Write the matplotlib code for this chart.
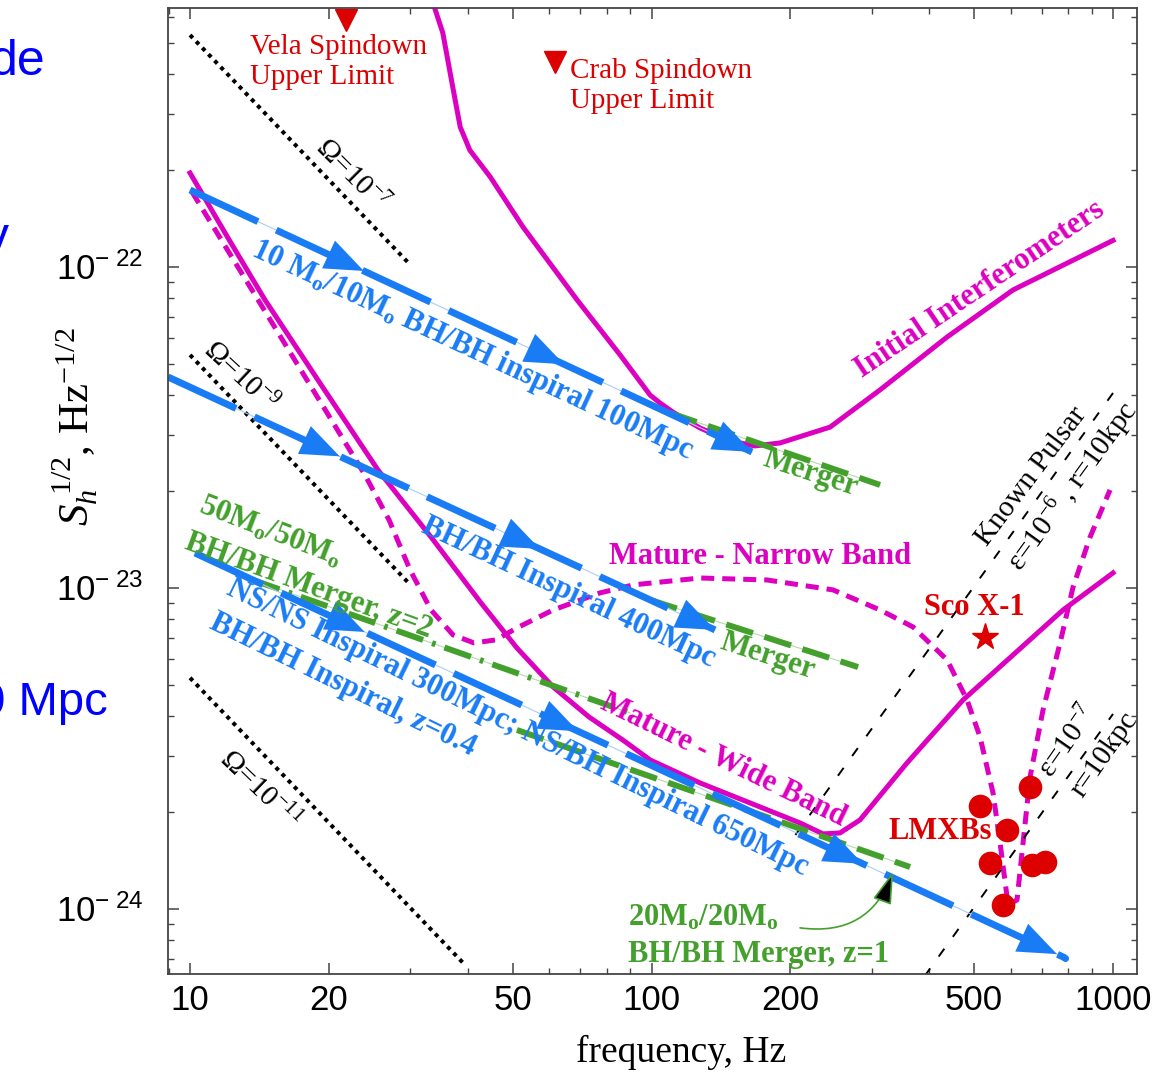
import numpy as np
import matplotlib.pyplot as plt

plt.rcParams['font.family'] = ['Liberation Serif', 'DejaVu Serif']
plt.rcParams['mathtext.fontset'] = 'custom'
plt.rcParams['mathtext.rm'] = 'Liberation Serif'
plt.rcParams['mathtext.it'] = 'Liberation Serif:italic'
plt.rcParams['mathtext.bf'] = 'Liberation Serif:bold'
plt.rcParams['mathtext.sf'] = 'Liberation Sans'

U = 1e-23  # strain unit, Hz^-1/2

# detector noise curves (Hz, units of 1e-23)
init_f = [33.45, 35.3, 36.96, 38.5, 40.4, 44.7, 52.7, 69.0, 85.5, 99.3, 104.3, 111.3, 127.4,
          148, 167.6, 189.9, 243.7, 312.7, 436.9, 607.1, 1000]
init_h = [67.9, 53.6, 37.4, 27.3, 23.1, 19.1, 13.3, 7.89, 5.32, 3.99, 3.77, 3.53, 3.15,
          2.87, 2.77, 2.83, 3.17, 4.14, 6.05, 8.48, 12.1]

wide_f = [10, 12.09, 14.54, 19.12, 25.55, 33.28, 42.72, 51.1, 61.2, 73.2, 87.2, 99.3, 127.4,
          163.5, 209.8, 235.3, 256.1, 283.0, 317.4, 357.8, 401.4, 473.2, 779.3, 1000]
wide_h = [19.63, 12.31, 7.89, 4.35, 2.33, 1.441, 0.898, 0.650, 0.4915, 0.3964, 0.3338, 0.2912,
          0.2469, 0.2139, 0.1853, 0.1713, 0.1725, 0.1894, 0.2314, 0.2850, 0.3434, 0.4478,
          0.854, 1.114]

narrow_f = [10.1, 15.67, 23.94, 27.0, 29.98, 33.28, 37.15, 41.25, 46.03, 51.1, 61.2, 77.3,
            91.2, 127.4, 178, 247.4, 312.7, 368.6, 436.9, 482.7, 515, 549.5, 569.1, 592.4,
            619.4, 638.3, 661.0, 705.2, 767.8, 819.2, 891.8, 985.1]
narrow_h = [17.13, 6.10, 2.249, 1.628, 1.138, 0.854, 0.714, 0.674, 0.689, 0.751, 0.854, 0.965,
            1.022, 1.074, 1.059, 0.986, 0.854, 0.756, 0.597, 0.4478, 0.3434, 0.2298, 0.1606,
            0.1029, 0.1067, 0.1606, 0.2577, 0.4168, 0.674, 1.007, 1.441, 2.020]

# stochastic background lines
om7_f, om7_h = [10, 29.6], [52.8, 10.37]
om9_f, om9_h = [10, 29.6], [5.32, 1.045]
om11_f, om11_h = [10, 39.4], [0.525, 0.067]

# known pulsars
psr_f = [205, 1000]
eps6_h = [0.170, 4.05]
eps7_h = [0.0170, 0.405]

# inspiral tracks and arrow positions
trkA_f, trkA_h, trkA_arr = [10, 165.1], [17.38, 2.653], [23.8, 64.6, 165.1]
trkB_f, trkB_h, trkB_arr = [8.96, 137.3], [4.543, 0.740], [21.1, 57.3, 137.3]
trkC_f, trkC_h, trkC_arr = [10.25, 787], [1.285, 0.0704], [23.9, 69.3, 287, 756]

# mergers
mrgA_f, mrgA_h = [109.7, 312.7], [3.51, 2.094]
mrgB_f, mrgB_h = [99.3, 280.2], [0.918, 0.567]
mrg50_f, mrg50_h = [13.69, 89.8], [1.059, 0.408]
mrg20_f, mrg20_h = [51.1, 363.2], [0.361, 0.1351]
mrg20_pt = (333.7, 0.1304)
mrg20_txt = (209.8, 0.0873)

# sources
vela = (21.8, 58.8)
crab = (61.8, 43.5)
sco = (528, 0.704)
lmxb_f = [515, 661, 589.4, 541.4, 667.6, 712.2, 577.7]
lmxb_h = [0.2094, 0.2399, 0.1762, 0.139, 0.1371, 0.1401, 0.1029]

MAG = '#dc00c0'
BLUE = '#1a7cf5'
GREEN = '#43a02c'
RED = '#dd0000'

fig = plt.figure(figsize=(11.68, 10.74), dpi=100)
ax = fig.add_axes([168/1168, 1-974/1074, 969/1168, 966/1074])
ax.set_xscale('log')
ax.set_yscale('log')
ax.set_xlim(8.96, 1127)
ax.set_ylim(6.27e-25, 6.41e-22)

def h(v):
    return np.array(v)*U

# noise curves
ax.plot(init_f, h(init_h), color=MAG, lw=3.6)
ax.plot(wide_f, h(wide_h), color=MAG, lw=3.6)
ax.plot(narrow_f, h(narrow_h), color=MAG, lw=3.6, ls=(0, (2.6, 1.6)))

for f, hh in [(om7_f, om7_h), (om9_f, om9_h), (om11_f, om11_h)]:
    ax.plot(f, h(hh), color='black', lw=2.9, ls=(0, (1.0, 1.2)))

ax.plot(psr_f, h(eps6_h), color='black', lw=1.4, ls=(0, (5, 7.5)))
ax.plot(psr_f, h(eps7_h), color='black', lw=1.4, ls=(0, (5, 7.5)))

def merger(f, hh, ls):
    ax.plot(f, h(hh), color='#b4dbab', lw=0.8)
    ax.plot(f, h(hh), color=GREEN, lw=4.3, ls=ls)

merger(mrgA_f, mrgA_h, (0, (4.7, 2.0)))
merger(mrgB_f, mrgB_h, (0, (4.7, 2.0)))
merger(mrg50_f, mrg50_h, (0, (4.7, 1.6, 0.6, 1.6)))
merger(mrg20_f, mrg20_h, (0, (4.7, 2.0)))

def track(f, hh, arrows):
    lf, lh = np.log10(f), np.log10(h(hh))
    ax.plot(f, h(hh), color='#a9cdf8', lw=0.8)
    ax.plot(f, h(hh), color=BLUE, lw=5, ls=(0, (10.8, 2.9)))
    for fa in arrows:
        ha = 10**np.interp(np.log10(fa), lf, lh)
        ft = fa/1.12
        ht = 10**np.interp(np.log10(ft), lf, lh)
        ax.annotate('', xy=(fa, ha), xytext=(ft, ht),
                    arrowprops=dict(arrowstyle='-|>,head_length=1.4,head_width=0.55',
                                    mutation_scale=20, color=BLUE, lw=0,
                                    shrinkA=0, shrinkB=0))

track(trkA_f, trkA_h, trkA_arr)
track(trkB_f, trkB_h, trkB_arr)
track(trkC_f, trkC_h, trkC_arr)
ax.plot(trkC_f[-1], trkC_h[-1]*U, 'o', color=BLUE, ms=4)

# sources
ax.plot(vela[0], vela[1]*U, 'v', color=RED, ms=16, clip_on=False)
ax.plot(crab[0], crab[1]*U, 'v', color=RED, ms=16)
ax.plot(sco[0], sco[1]*U, '*', color=RED, ms=20)
ax.plot(lmxb_f, h(lmxb_h), 'o', color=RED, ms=17, mec='none')

ax.annotate('', xy=(mrg20_pt[0], mrg20_pt[1]*U), xytext=(mrg20_txt[0], mrg20_txt[1]*U),
            arrowprops=dict(arrowstyle='-|>,head_length=1.0,head_width=0.3', mutation_scale=20,
                            connectionstyle='arc3,rad=0.4', fc='black', ec=GREEN, lw=1.2,
                            shrinkA=0, shrinkB=0))

def label(x, y, s, color, rot=0, size=22, weight='bold', ha='center', va='center'):
    ax.text(x, y, s, transform=ax.transAxes, color=color, rotation=rot, fontsize=size,
            fontweight=weight, ha=ha, va=va, rotation_mode='anchor')

label(0.0846, 0.9446, 'Vela Spindown\nUpper Limit', RED, size=21, weight='normal', ha='left')
label(0.4148, 0.9193, 'Crab Spindown\nUpper Limit', RED, size=21, weight='normal', ha='left')
label(0.838, 0.7081, 'Initial Interferometers', MAG, rot=34)
label(0.3137, 0.646, r'10 M$_\mathbf{o}$/10M$_\mathbf{o}$ BH/BH inspiral 100Mpc', BLUE, rot=-25)
label(0.4128, 0.3944, 'BH/BH Inspiral 400Mpc', BLUE, rot=-25)
label(0.6636, 0.5186, 'Merger', GREEN, rot=-18)
label(0.6192, 0.3292, 'Merger', GREEN, rot=-18)
label(0.1063, 0.4576, r'50M$_\mathbf{o}$/50M$_\mathbf{o}$', GREEN, rot=-21)
label(0.1455, 0.4017, 'BH/BH Merger, z=2', GREEN, rot=-20)
label(0.3602, 0.2547, 'NS/NS Inspiral 300Mpc; NS/BH Inspiral 650Mpc', BLUE, rot=-26)
label(0.1806, 0.2992, 'BH/BH Inspiral, z=0.4', BLUE, rot=-26)
label(0.6109, 0.4317, 'Mature - Narrow Band', MAG)
label(0.5728, 0.2215, 'Mature - Wide Band', MAG, rot=-26)
label(0.8318, 0.3799, 'Sco X-1', RED)
label(0.7967, 0.147, 'LMXBs', RED)
label(0.4747, 0.0497, r'20M$_\mathbf{o}$/20M$_\mathbf{o}$', GREEN, ha='left', va='baseline')
label(0.4747, 0.0124, 'BH/BH Merger, z=1', GREEN, ha='left', va='baseline')
label(0.1899, 0.8271, 'Ω=10$^{-7}$', 'black', rot=-45, size=21, weight='normal')
label(0.0743, 0.618, 'Ω=10$^{-9}$', 'black', rot=-43, size=21, weight='normal')
label(0.0949, 0.1905, 'Ω=10$^{-11}$', 'black', rot=-44, size=21, weight='normal')
label(0.8906, 0.5145, 'Known Pulsar', 'black', rot=53, size=21, weight='normal')
label(0.934, 0.5041, 'ε=10$^{-6}$ , r=10kpc', 'black', rot=54, size=21, weight='normal')
label(0.9288, 0.2402, 'ε=10$^{-7}$', 'black', rot=55, size=21, weight='normal')
label(0.967, 0.2267, 'r=10kpc', 'black', rot=55, size=21, weight='normal')

# axes styling
xt = [10, 20, 50, 100, 200, 500, 1000]
ax.set_xticks(xt)
ax.set_xticklabels([str(v) for v in xt], fontfamily='Liberation Sans', fontsize=25)
yt = [1e-24, 1e-23, 1e-22]
ax.set_yticks(yt)
ax.set_yticklabels([r'$\mathsf{10^{-\ 24}}$', r'$\mathsf{10^{-\ 23}}$', r'$\mathsf{10^{-\ 22}}$'],
                   fontsize=25)
ax.tick_params(which='both', direction='in', top=True, right=True, color='#444444')
ax.tick_params(which='major', length=8, width=1.1)
ax.tick_params(which='minor', length=4.5, width=1.0)
ax.tick_params(axis='x', pad=7)
ax.tick_params(axis='y', pad=18)
for s in ax.spines.values():
    s.set_color('#444444')
    s.set_linewidth(1.3)

fig.text(75/1168, 1-427/1074, r'$S_h^{\ 1/2}$, Hz$^{-1/2}$', rotation=90, fontsize=31,
         ha='center', va='center')
fig.text(681/1168, 1-1052/1074, 'frequency, Hz', fontsize=27, ha='center', va='center')

# slide text cut off at the left edge
fig.text(45/1168, 1-75/1074, 'de', color='#0000ff', fontsize=36, fontfamily='Liberation Sans', ha='right', va='baseline')
fig.text(9/1168, 1-252/1074, 'y', color='#0000ff', fontsize=36, fontfamily='Liberation Sans', ha='right', va='baseline')
fig.text(108/1168, 1-715/1074, '0 Mpc', color='#0000ff', fontsize=34, fontfamily='Liberation Sans', ha='right', va='baseline')

fig.savefig('out.png', dpi=100)
